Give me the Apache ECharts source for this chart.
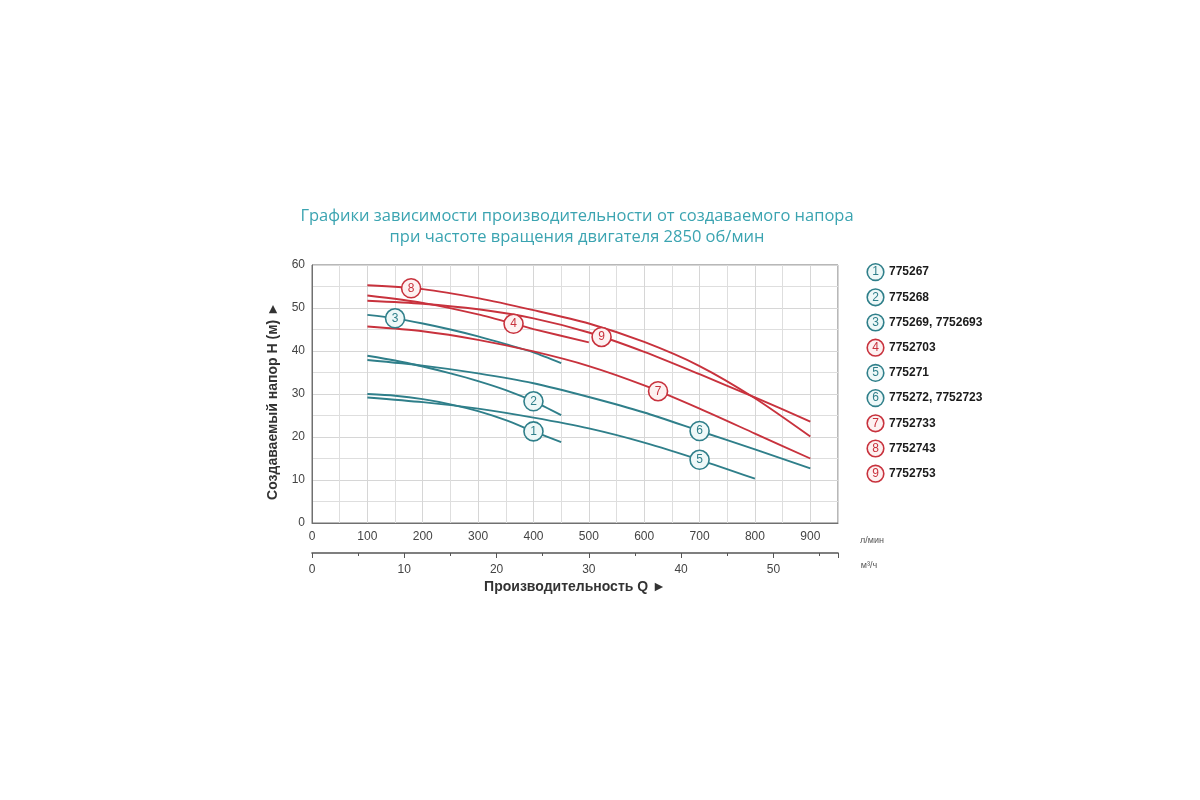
<!DOCTYPE html>
<html>
<head>
<meta charset="utf-8">
<title>Напорные характеристики</title>
<script src="https://cdn.jsdelivr.net/npm/echarts@6/dist/echarts.min.js"></script>
<style>
    html, body { margin: 0; padding: 0; background: #fff; }
    #chart { width: 1200px; height: 800px; }
</style>
</head>
<body>
<div id="chart"></div>
<script>
    // подача Q, л/мин (точки)
    var qShort = [100, 150, 200, 250, 300, 350, 400, 450];
    var qMid = [100, 200, 300, 400, 500];
    var q800 = [100, 200, 300, 400, 500, 600, 700, 800];
    var q900 = [100, 200, 300, 400, 500, 600, 700, 800, 900];

    // напор H, м
    var h1 = [30.0, 29.6, 28.8, 27.6, 26.0, 23.9, 21.3, 18.8];
    var h2 = [38.9, 37.8, 36.4, 34.8, 33.0, 30.9, 28.3, 25.1];
    var h3 = [48.4, 47.6, 46.4, 45.0, 43.4, 41.6, 39.7, 37.2];
    var h4 = [52.9, 51.2, 48.5, 45.1, 42.0];
    var h5 = [29.2, 28.1, 26.6, 24.5, 22.0, 18.7, 14.7, 10.3];
    var h6 = [37.9, 36.6, 34.8, 32.5, 29.3, 25.7, 21.4, 17.1, 12.7];
    var h7 = [45.7, 44.6, 42.6, 39.9, 36.5, 32.0, 26.6, 20.8, 15.0];
    var h8 = [55.3, 54.4, 52.3, 49.5, 46.4, 42.1, 36.5, 29.0, 20.1];
    var h9 = [51.7, 51.0, 49.7, 47.6, 44.3, 39.8, 34.6, 29.2, 23.6];

    // модели насосов и где стоит номер на кривой (Q, л/мин)
    var models = ['775267', '775268', '775269, 7752693', '7752703', '775271',
                  '775272, 7752723', '7752733', '7752743', '7752753'];
    var redCurve = [false, false, false, true, false, false, true, true, true];
    var labelQ = [400, 400, 150, 364, 700, 700, 625, 179, 523];

    var TEAL = '#2f7f8a';
    var RED = '#c8323d';

    var curves = [
        [qShort, h1], [qShort, h2], [qShort, h3], [qMid, h4], [q800, h5],
        [q900, h6], [q900, h7], [q900, h8], [q900, h9]
    ];

    // напор на кривой в точке x (для кружка с номером)
    function headAt(q, h, x) {
        for (var i = 1; i < q.length; i++) {
            if (x <= q[i]) {
                var t = (x - q[i - 1]) / (q[i] - q[i - 1]);
                return h[i - 1] + t * (h[i] - h[i - 1]);
            }
        }
        return h[h.length - 1];
    }

    var series = [];
    var tealMarks = [], redMarks = [];

    for (var k = 0; k < curves.length; k++) {
        var q = curves[k][0], h = curves[k][1];
        var pts = [];
        for (var i = 0; i < q.length; i++) {
            pts.push([q[i], h[i]]);
        }
        var col = redCurve[k] ? RED : TEAL;
        series.push({
            name: models[k],
            type: 'line',
            smooth: 0.25,
            showSymbol: false,
            color: col,
            lineStyle: { width: 1.9, color: col },
            data: pts,
            z: 3
        });
        var mark = { name: String(k + 1), value: [labelQ[k], headAt(q, h, labelQ[k])] };
        if (redCurve[k]) { redMarks.push(mark); } else { tealMarks.push(mark); }
    }

    function markSeries(data, col, fill) {
        return {
            type: 'scatter',
            data: data,
            symbol: 'circle',
            symbolSize: 19,
            z: 5,
            itemStyle: { color: fill, borderColor: col, borderWidth: 1.6, opacity: 1 },
            label: {
                show: true,
                position: 'inside',
                formatter: '{b}',
                color: col,
                fontSize: 12,
                fontFamily: 'Liberation Sans'
            }
        };
    }
    series.push(markSeries(tealMarks, TEAL, '#eef8f8'));
    series.push(markSeries(redMarks, RED, '#fdf1f1'));

    var myChart = echarts.init(document.getElementById('chart'));

    var option = {
        animation: false,
        backgroundColor: '#fff',
        textStyle: { fontFamily: 'Liberation Sans' },
        grid: { left: 312, top: 265, width: 526, height: 258, show: true, borderColor: '#707070', borderWidth: 1 },
        legend: {
            orient: 'vertical',
            left: 857,
            top: 258,
            icon: 'none',
            itemWidth: 1,
            itemHeight: 16,
            itemGap: 7,
            selectedMode: false,
            data: models,
            formatter: function (name) {
                var idx = models.indexOf(name);
                var key = redCurve[idx] ? 'r' : 't';
                return '{' + key + '|' + (idx + 1) + '}{m|' + name + '}';
            },
            textStyle: {
                rich: {
                    t: { width: 15, height: 15, lineHeight: 15, align: 'center', borderRadius: 9, borderWidth: 1.6,
                         borderColor: TEAL, backgroundColor: '#eef8f8', color: TEAL, fontSize: 12 },
                    r: { width: 15, height: 15, lineHeight: 15, align: 'center', borderRadius: 9, borderWidth: 1.6,
                         borderColor: RED, backgroundColor: '#fdf1f1', color: RED, fontSize: 12 },
                    m: { fontSize: 12, fontWeight: 'bold', color: '#1a1a1a', padding: [0, 0, 0, 6] }
                }
            }
        },
        xAxis: [
            {
                type: 'value',
                position: 'bottom',
                min: 0,
                max: 950,
                interval: 100,
                axisLine: { show: true, lineStyle: { color: '#707070' } },
                axisTick: { show: false },
                axisLabel: {
                    margin: 8, fontSize: 12, color: '#444',
                    formatter: function (v) { return v % 100 === 0 ? v : ''; }
                },
                splitLine: { show: true, lineStyle: { color: '#d6d6d6' } },
                minorTick: { show: false, splitNumber: 2 },
                minorSplitLine: { show: true, lineStyle: { color: '#dedede' } }
            },
            {
                // шкала в м³/ч
                type: 'value',
                position: 'bottom',
                offset: 30,
                min: 0,
                max: 57,
                interval: 10,
                axisLine: { show: true, lineStyle: { color: '#555', width: 1.6 } },
                axisTick: { show: true, length: 5, lineStyle: { color: '#555' } },
                minorTick: { show: true, splitNumber: 2, length: 3, lineStyle: { color: '#555' } },
                axisLabel: {
                    margin: 11, fontSize: 12, color: '#444',
                    formatter: function (v) { return v % 10 === 0 ? v : ''; }
                },
                splitLine: { show: false },
                name: 'Производительность Q ►',
                nameLocation: 'middle',
                nameGap: 27,
                nameTextStyle: { fontSize: 14, fontWeight: 'bold', color: '#333' }
            }
        ],
        yAxis: {
            type: 'value',
            min: 0,
            max: 60,
            interval: 10,
            axisLine: { show: true, lineStyle: { color: '#707070' } },
            axisTick: { show: false },
            axisLabel: { margin: 7, fontSize: 12, color: '#444' },
            splitLine: { show: true, lineStyle: { color: '#d6d6d6' } },
            minorTick: { show: false, splitNumber: 2 },
            minorSplitLine: { show: true, lineStyle: { color: '#dedede' } },
            name: 'Создаваемый напор H (м) ►',
            nameLocation: 'middle',
            nameGap: 32,
            nameTextStyle: { fontSize: 14, fontWeight: 'bold', color: '#333', padding: [0, 14, 0, 0] }
        },
        graphic: [
            {
                type: 'text',
                x: 577,
                y: 206,
                style: {
                    text: 'Графики зависимости производительности от создаваемого напора\nпри частоте вращения двигателя 2850 об/мин',
                    fill: '#3ba4b1',
                    font: '16.5px "Open Sans"',
                    lineHeight: 21,
                    textAlign: 'center',
                    textVerticalAlign: 'top'
                }
            },
            {
                type: 'text',
                x: 872,
                y: 541,
                style: { text: 'л/мин', fill: '#555', font: '9px "Liberation Sans"', textAlign: 'center', textVerticalAlign: 'middle' }
            },
            {
                type: 'text',
                x: 869,
                y: 566,
                style: { text: 'м³/ч', fill: '#555', font: '9px "Liberation Sans"', textAlign: 'center', textVerticalAlign: 'middle' }
            }
        ],
        series: series
    };

    myChart.setOption(option);
</script>
</body>
</html>
